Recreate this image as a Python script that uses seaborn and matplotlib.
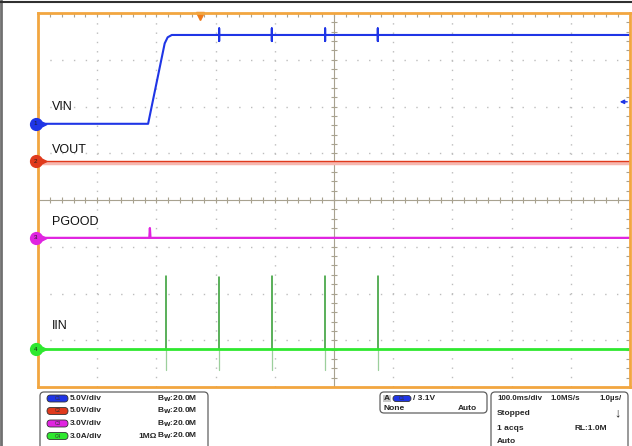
import numpy as np
import pandas as pd
import seaborn as sns
import matplotlib.pyplot as plt
from matplotlib.patches import FancyBboxPatch, Rectangle

# time axis in ms (100 ms/div, 10 div), vertical axis in divisions (8 div)
vin_t = [0, 186, 214, 219, 226, 306, 395, 485, 574, 1000]
vin_v = [5.63, 5.63, 7.35, 7.48, 7.53, 7.53, 7.53, 7.53, 7.53, 7.53]
vin_glitch_t = [217, 306, 395, 485, 574]

vout_t = [0, 1000]
vout_v = [4.83, 4.83]

pgood_t = [0, 188, 189, 190, 1000]
pgood_v = [3.19, 3.19, 3.40, 3.19, 3.19]

iin_base = 0.81
iin_spike_t = [217, 306, 395, 485, 574]
iin_spike_top = [2.37, 2.36, 2.37, 2.38, 2.37]
iin_spike_low = [0.36, 0.36, 0.36, 0.36, 0.36]

channels = ['VIN', 'VOUT', 'PGOOD', 'IIN']
ch_level = [5.63, 4.83, 3.19, 0.81]
ch_color = ['#1f35e6', '#e03a1c', '#e024e0', '#2fe82f']
ch_scale = ['5.0V/div', '5.0V/div', '3.0V/div', '3.0A/div']

# build IIN pulses: upward part and the faint undershoot
up_t, up_v, dn_t, dn_v = [], [], [], []
for t, top, low in zip(iin_spike_t, iin_spike_top, iin_spike_low):
    up_t += [t, t, np.nan]
    up_v += [iin_base, top, np.nan]
    dn_t += [t, t, np.nan]
    dn_v += [iin_base, low, np.nan]

# VIN with the small glitches seen on the high level
vt, vv = [], []
for t, v in zip(vin_t, vin_v):
    vt.append(t)
    vv.append(v)
    if t in vin_glitch_t:
        vt += [t, t, t]
        vv += [v + 0.14, v - 0.13, v]

sns.set_style('white')
plt.rcParams['font.family'] = ['Liberation Sans', 'DejaVu Sans']

fig = plt.figure(figsize=(6.32, 4.46), dpi=100)

# background axes in pixel coordinates for frame and info panel
bg = fig.add_axes([0, 0, 1, 1])
bg.set_xlim(0, 632)
bg.set_ylim(446, 0)
bg.axis('off')
bg.plot([1, 1], [0, 446], color='#707070', lw=2)
bg.plot([0, 632], [2, 2], color='#303030', lw=1.5)

ax = fig.add_axes([38 / 632, (446 - 387) / 446, 592 / 632, 374 / 446])
ax.set_xlim(0, 1000)
ax.set_ylim(0, 8)

# dotted graticule
for gx in range(100, 1000, 100):
    if gx != 500:
        ax.axvline(gx, color='#bdbdbd', lw=1, ls=(0, (1, 5.7)), zorder=0)
for gy in range(1, 8):
    if gy != 4:
        ax.axhline(gy, color='#bdbdbd', lw=1, ls=(0, (1, 7.5)), zorder=0)
ax.axvline(500, color='#a8a290', lw=0.8, zorder=0)
ax.axhline(4, color='#a8a290', lw=0.8, zorder=0)
ax.plot(np.arange(0, 1001, 20), np.full(51, 4), ls='none', marker='|',
        ms=4, color='#a8a290', mew=0.8, zorder=0)
ax.plot(np.full(41, 500), np.arange(0, 8.01, 0.2), ls='none', marker='_',
        ms=4, color='#a8a290', mew=0.8, zorder=0)

# traces
sns.lineplot(x=vt, y=vv, ax=ax, color=ch_color[0], lw=1.5, sort=False, estimator=None)
sns.lineplot(x=vout_t, y=[v - 0.03 for v in vout_v], ax=ax, color='#f7b8b0', lw=2.5,
             sort=False, estimator=None)
sns.lineplot(x=vout_t, y=vout_v, ax=ax, color=ch_color[1], lw=1, sort=False, estimator=None)
sns.lineplot(x=pgood_t, y=pgood_v, ax=ax, color=ch_color[2], lw=1.6, sort=False, estimator=None)
ax.plot(dn_t, dn_v, color='#9ccf9c', lw=0.9)
ax.plot(up_t, up_v, color='#2c9a2c', lw=1.1)
sns.lineplot(x=[0, 1000], y=[iin_base] * 2, ax=ax, color=ch_color[3], lw=2, sort=False, estimator=None)

# frame and ticks
for s in ax.spines.values():
    s.set_color('#f2a640')
    s.set_linewidth(2)
ax.set_xticks(np.arange(0, 1001, 100))
ax.set_yticks(np.arange(0, 8.01, 1))
ax.set_xticks(np.arange(0, 1001, 20), minor=True)
ax.set_yticks(np.arange(0, 8.01, 0.2), minor=True)
ax.tick_params(which='both', direction='in', length=3, color='#a8a290', width=0.8,
               top=True, right=True, labelbottom=False, labelleft=False)
ax.set_xlabel('')
ax.set_ylabel('')

# trigger position and level markers
ax.plot([274], [7.94], marker='v', color='#ee7a1a', ms=6, clip_on=False)
ax.annotate('', xy=(978, 6.1), xytext=(1000, 6.1),
            arrowprops=dict(arrowstyle='-|>', color=ch_color[0], lw=1, mutation_scale=6),
            annotation_clip=False)

# channel labels and ground markers
label_y = [6.0, 5.08, 3.52, 1.3]
for i, (name, lev, col, ly) in enumerate(zip(channels, ch_level, ch_color, label_y)):
    ax.text(24, ly, name, fontsize=9, color='#111111', va='center')
    ax.plot([-4], [lev], marker='o', ms=8.5, color=col, clip_on=False, zorder=5)
    ax.plot([10], [lev], marker='>', ms=3.5, color=col, clip_on=False, zorder=5)
    ax.text(-4, lev, str(i + 1), fontsize=4.5, color='#202020', ha='center',
            va='center', zorder=6, clip_on=False)

# info panel
def box(x0, y0, x1, y1):
    bg.add_patch(FancyBboxPatch((x0, y0), x1 - x0, y1 - y0,
                                boxstyle='round,pad=0,rounding_size=4',
                                fc='white', ec='#606060', lw=0.9))

box(40, 392, 208, 450)
box(380, 392, 487, 413)
box(491, 392, 628, 450)

row_y = [398.5, 411, 423.5, 436]
for i, (col, sc, yy) in enumerate(zip(ch_color, ch_scale, row_y)):
    bg.add_patch(FancyBboxPatch((47, yy - 3.5), 21, 7, boxstyle='round,pad=0,rounding_size=3.5',
                                fc=col, ec='#333333', lw=0.6))
    bg.text(57.5, yy, 'C%d' % (i + 1), fontsize=3.5, color='#333333', ha='center', va='center')
    bg.text(70, yy, sc, fontsize=6, weight='bold', va='center')
    bg.text(157, yy, r'B$_\mathbf{W}$:20.0M', fontsize=6, weight='bold', va='center')
bg.text(138, row_y[3], '1MΩ', fontsize=6, weight='bold', va='center')

bg.add_patch(Rectangle((383, 395), 8, 7, fc='#c8c8c8', ec='none'))
bg.text(387, 398.5, 'A', fontsize=6, weight='bold', ha='center', va='center')
bg.add_patch(FancyBboxPatch((393, 395.5), 18, 6, boxstyle='round,pad=0,rounding_size=3',
                            fc=ch_color[0], ec='#333333', lw=0.6))
bg.text(402, 398.5, 'C1', fontsize=3.5, color='#333333', ha='center', va='center')
bg.text(413, 398.5, '/ 3.1V', fontsize=6, weight='bold', va='center')
bg.text(384, 408.5, 'None', fontsize=6, weight='bold', va='center')
bg.text(477, 408.5, 'Auto', fontsize=6, weight='bold', va='center', ha='right')

bg.text(497, 398.5, '100.0ms/div', fontsize=5.7, weight='bold', va='center')
bg.text(550, 398.5, '1.0MS/s', fontsize=5.7, weight='bold', va='center')
bg.text(622, 398.5, '1.0µs/', fontsize=5.7, weight='bold', va='center', ha='right')
bg.text(497, 413.5, 'Stopped', fontsize=6, weight='bold', va='center')
bg.text(617, 413, '↓', fontsize=9, weight='bold', va='center', ha='center')
bg.text(497, 428, '1 acqs', fontsize=6, weight='bold', va='center')
bg.text(607, 428, 'RL:1.0M', fontsize=6, weight='bold', va='center', ha='right')
bg.text(497, 441.5, 'Auto', fontsize=6, weight='bold', va='center')

fig.savefig('out.png', dpi=100)
